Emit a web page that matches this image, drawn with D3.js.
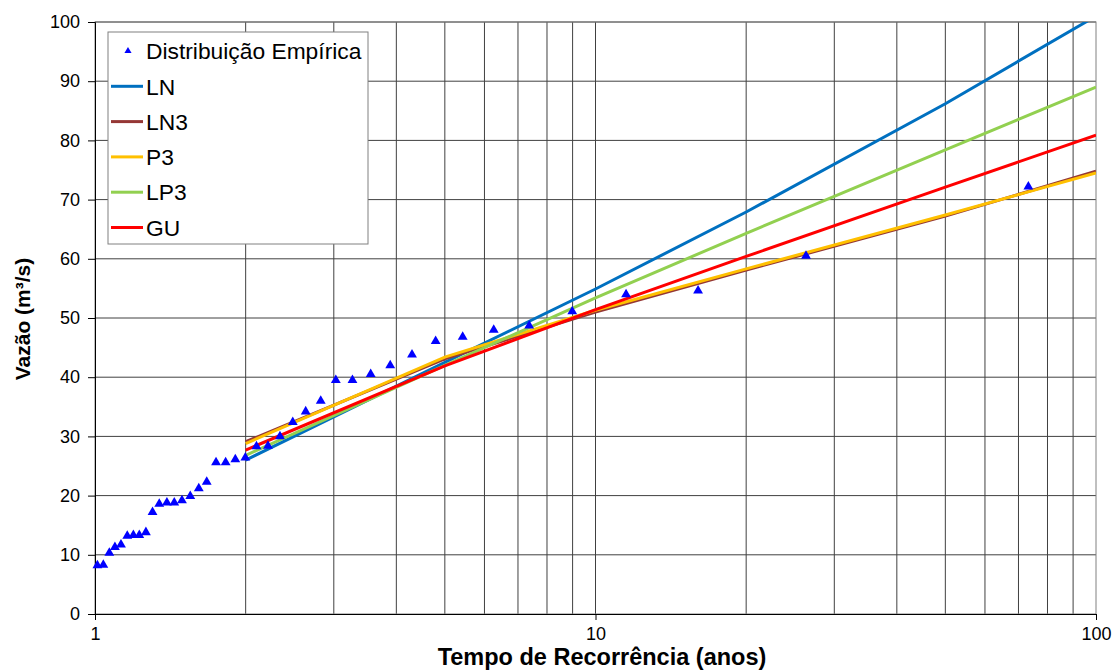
<!DOCTYPE html>
<html>
<head>
<meta charset="utf-8">
<script src="https://cdn.jsdelivr.net/npm/d3@7"></script>
<style>
  body { margin: 0; background: #fff; }
  text { font-family: "Liberation Sans", Arial, sans-serif; }
</style>
</head>
<body>
<svg id="chart" width="1113" height="672"></svg>
<script>
// empirical distribution: return period (anos) and flow (m3/s)
const empT = [1.011, 1.039, 1.068, 1.096, 1.127, 1.160, 1.193, 1.226, 1.264, 1.303,
              1.344, 1.392, 1.440, 1.492, 1.550, 1.612, 1.672, 1.745, 1.824, 1.907,
              1.997, 2.102, 2.216, 2.342, 2.484, 2.636, 2.825, 3.028, 3.269, 3.555,
              3.889, 4.299, 4.793, 5.428, 6.261, 7.371, 8.986, 11.51, 16.03, 26.34, 73.26];
const empQ = [8.2, 8.3, 10.3, 11.3, 11.7, 13.2, 13.3, 13.3, 13.8, 17.2,
              18.6, 18.8, 18.8, 19.2, 19.9, 21.2, 22.3, 25.6, 25.6, 26.1,
              26.4, 28.3, 28.4, 30.0, 32.4, 34.2, 36.0, 39.5, 39.5, 40.5,
              42.0, 43.8, 46.1, 46.8, 48.0, 48.7, 51.1, 54.0, 54.6, 60.5, 72.2];

// fitted distributions
const retT = [2, 5, 10, 20, 50, 100];
const qLN  = [26.0, 42.5, 54.9, 67.9, 86.2, 101.0];
const qLN3 = [29.1, 43.1, 51.0, 58.1, 67.2, 74.8];
const qP3  = [28.8, 43.4, 51.3, 58.3, 67.4, 74.5];
const qLP3 = [26.8, 42.0, 53.4, 64.3, 78.4, 89.0];
const qGU  = [27.7, 41.9, 51.4, 60.4, 72.1, 80.9];

const seriesNames  = ["LN", "LN3", "P3", "LP3", "GU"];
const seriesColors = ["#0070C0", "#953735", "#FFC000", "#92D050", "#FF0000"];
const seriesValues = [qLN, qLN3, qP3, qLP3, qGU];

const yTicks = [0, 10, 20, 30, 40, 50, 60, 70, 80, 90, 100];
const xTicks = [1, 10, 100];
const xGrid  = [2, 3, 4, 5, 6, 7, 8, 9, 10, 20, 30, 40, 50, 60, 70, 80, 90];

const svg = d3.select("#chart");
const pLeft = 95, pRight = 1096, pTop = 22, pBottom = 614;

const x = d3.scaleLog().domain([1, 100]).range([pLeft, pRight]);
const y = d3.scaleLinear().domain([0, 100]).range([pBottom, pTop]);

// gridlines
const grid = svg.append("g");
grid.selectAll("line.h").data(yTicks.slice(1)).enter().append("line")
  .attr("x1", pLeft).attr("x2", pRight)
  .attr("y1", d => y(d)).attr("y2", d => y(d))
  .attr("stroke", "#404040").attr("stroke-width", 1);
grid.selectAll("line.v").data(xGrid).enter().append("line")
  .attr("x1", d => x(d)).attr("x2", d => x(d))
  .attr("y1", pTop).attr("y2", pBottom)
  .attr("stroke", "#404040").attr("stroke-width", 1);

svg.append("rect")
  .attr("x", pLeft).attr("y", pTop)
  .attr("width", pRight - pLeft).attr("height", pBottom - pTop)
  .attr("fill", "none").attr("stroke", "#808080");

// axes
const yAxis = svg.append("g")
  .attr("transform", "translate(" + pLeft + ",0)")
  .call(d3.axisLeft(y).tickValues(yTicks).tickSize(7).tickPadding(8));
const xAxis = svg.append("g")
  .attr("transform", "translate(0," + pBottom + ")")
  .call(d3.axisBottom(x).tickValues(xTicks).tickFormat(d3.format("d")).tickSize(6).tickPadding(7));
[yAxis, xAxis].forEach(a => {
  a.select(".domain").attr("stroke", "#000");
  a.selectAll(".tick line").attr("stroke", "#000");
  a.selectAll("text").attr("font-size", 18).attr("fill", "#000")
    .style("font-family", '"Liberation Sans", Arial, sans-serif');
});

svg.append("text")
  .attr("x", 602).attr("y", 665)
  .attr("text-anchor", "middle")
  .attr("font-size", 23.5).attr("font-weight", "bold")
  .text("Tempo de Recorrência (anos)");

svg.append("text")
  .attr("transform", "translate(30,319) rotate(-90)")
  .attr("text-anchor", "middle")
  .attr("font-size", 21).attr("font-weight", "bold")
  .text("Vazão (m³/s)");

// fitted lines
svg.append("clipPath").attr("id", "plotclip")
  .append("rect").attr("x", pLeft).attr("y", pTop)
  .attr("width", pRight - pLeft).attr("height", pBottom - pTop);

const line = d3.line().x(d => x(d[0])).y(d => y(d[1]));
const lines = svg.append("g").attr("clip-path", "url(#plotclip)");
seriesValues.forEach((vals, i) => {
  lines.append("path")
    .datum(retT.map((t, j) => [t, vals[j]]))
    .attr("fill", "none")
    .attr("stroke", seriesColors[i])
    .attr("stroke-width", 3)
    .attr("d", line);
});

// empirical points
const tri = d3.symbol().type(d3.symbolTriangle).size(42);
svg.append("g").selectAll("path")
  .data(empT.map((t, i) => [t, empQ[i]])).enter()
  .append("path")
  .attr("d", tri)
  .attr("transform", d => "translate(" + x(d[0]) + "," + y(d[1]) + ")")
  .attr("fill", "#0000FF");

// legend
const lg = svg.append("g");
lg.append("rect")
  .attr("x", 108).attr("y", 32).attr("width", 260).attr("height", 212)
  .attr("fill", "#fff").attr("stroke", "#808080");
const rowY = i => 51 + i * 35.3;
lg.append("path")
  .attr("d", d3.symbol().type(d3.symbolTriangle).size(22))
  .attr("transform", "translate(128," + rowY(0) + ")")
  .attr("fill", "#0000FF");
lg.append("text")
  .attr("x", 146).attr("y", rowY(0)).attr("dy", "0.36em")
  .attr("font-size", 22.8).text("Distribuição Empírica");
seriesNames.forEach((name, i) => {
  lg.append("line")
    .attr("x1", 111).attr("x2", 143)
    .attr("y1", rowY(i + 1)).attr("y2", rowY(i + 1))
    .attr("stroke", seriesColors[i]).attr("stroke-width", 3);
  lg.append("text")
    .attr("x", 146).attr("y", rowY(i + 1)).attr("dy", "0.36em")
    .attr("font-size", 22.8).text(name);
});
</script>
</body>
</html>
